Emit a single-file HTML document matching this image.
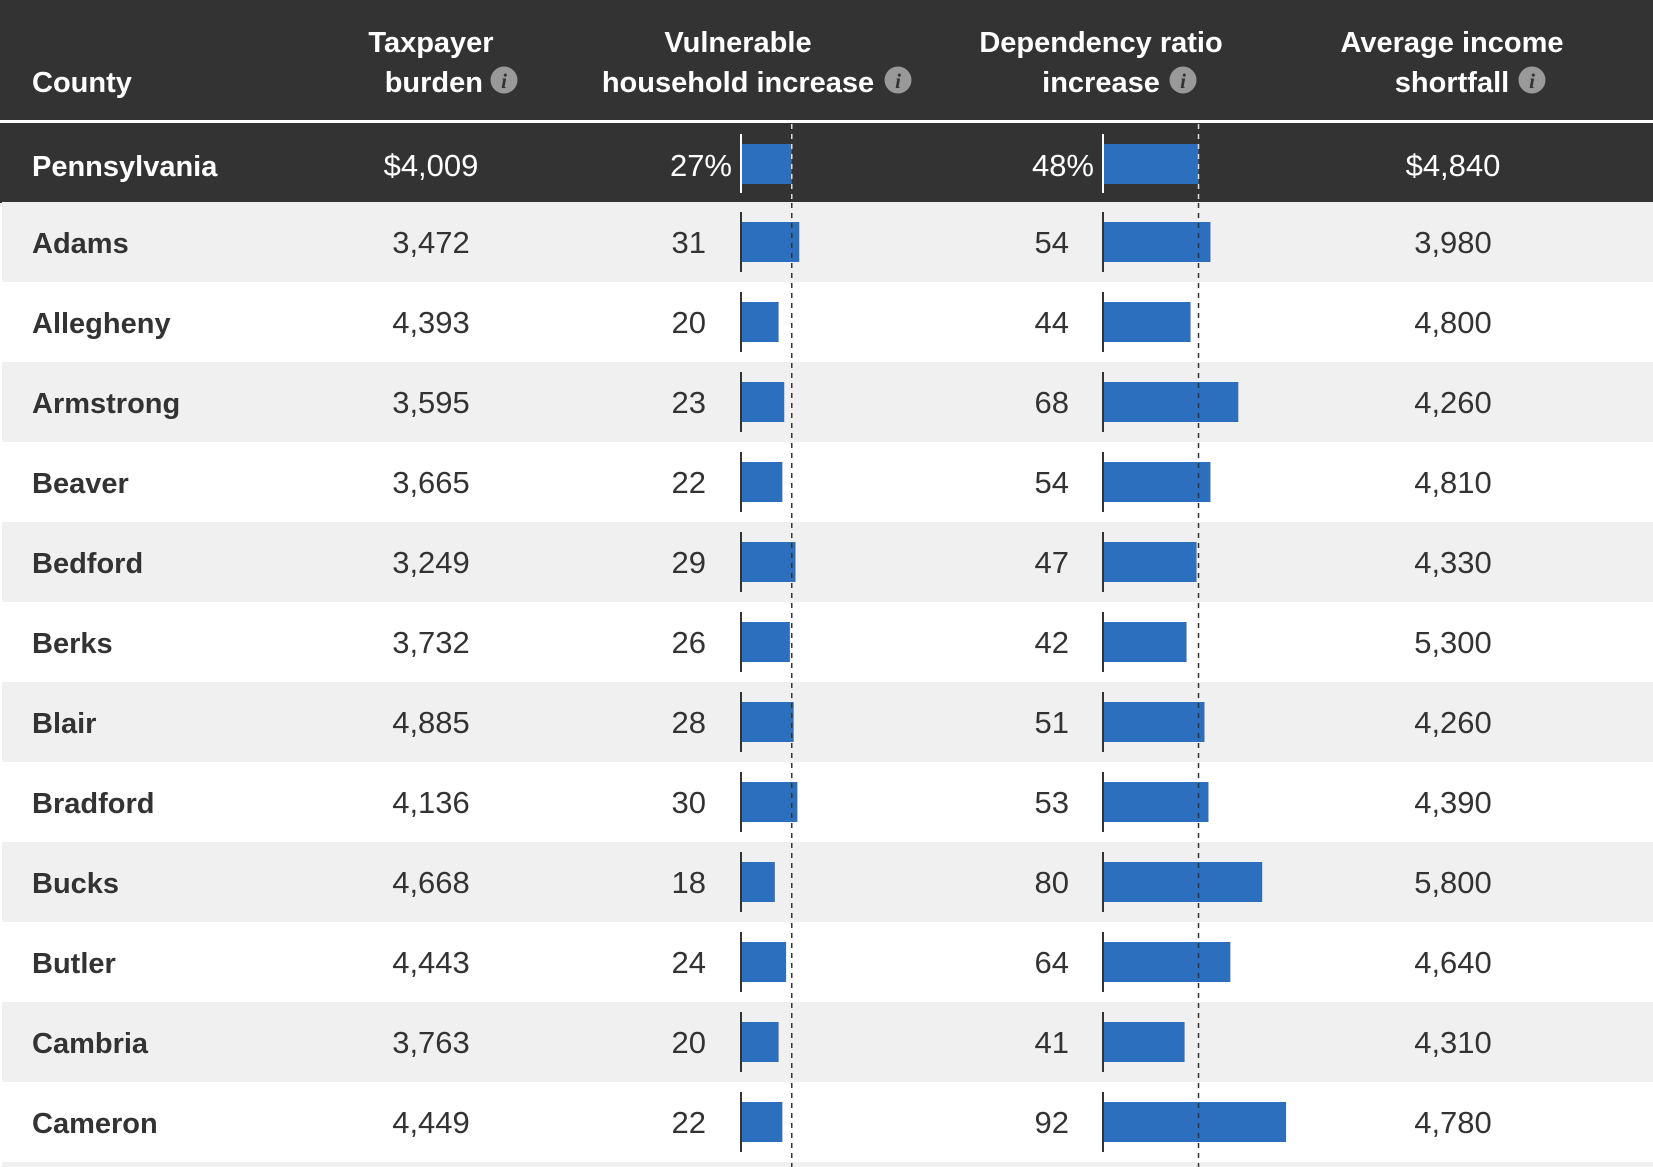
<!DOCTYPE html>
<html><head><meta charset="utf-8"><style>
html,body{margin:0;padding:0;background:#fff;}
svg{display:block;font-family:"Liberation Sans",sans-serif;}
</style></head><body>
<svg id="chart" width="1653" height="1167" viewBox="0 0 1653 1167" xmlns="http://www.w3.org/2000/svg">
<rect x="0" y="0" width="1653" height="120" fill="#333333"/>
<rect x="0" y="120" width="1653" height="3" fill="#ffffff"/>
<rect x="0" y="123" width="1653" height="80" fill="#333333"/>
<g fill="#ffffff" font-weight="bold" font-size="29">
<text x="32" y="92">County</text>
<text x="431" y="52" text-anchor="middle">Taxpayer</text>
<text x="483" y="92" text-anchor="end">burden</text>
<text x="738" y="52" text-anchor="middle">Vulnerable</text>
<text x="738" y="92" text-anchor="middle">household increase</text>
<text x="1101" y="52" text-anchor="middle">Dependency ratio</text>
<text x="1101" y="92" text-anchor="middle">increase</text>
<text x="1452" y="52" text-anchor="middle">Average income</text>
<text x="1452" y="92" text-anchor="middle">shortfall</text>
</g>
<g id="icons"></g>
<g id="rows"></g>
<g id="overlay"></g>
</svg>
<script>
const counties = ["Adams","Allegheny","Armstrong","Beaver","Bedford","Berks","Blair","Bradford","Bucks","Butler","Cambria","Cameron"];
const taxpayerBurden = ["3,472","4,393","3,595","3,665","3,249","3,732","4,885","4,136","4,668","4,443","3,763","4,449"];
const vulnerableIncrease = [31,20,23,22,29,26,28,30,18,24,20,22];
const dependencyIncrease = [54,44,68,54,47,42,51,53,80,64,41,92];
const incomeShortfall = ["3,980","4,800","4,260","4,810","4,330","5,300","4,260","4,390","5,800","4,640","4,310","4,780"];
const stateName = "Pennsylvania";
const stateTaxpayer = "$4,009";
const stateVulnerable = 27;
const stateDependency = 48;
const stateIncome = "$4,840";

const NS = "http://www.w3.org/2000/svg";
function mk(tag, attrs, parent, txt){
  const e = document.createElementNS(NS, tag);
  for (const k in attrs) e.setAttribute(k, attrs[k]);
  if (txt !== undefined) e.textContent = txt;
  parent.appendChild(e);
  return e;
}
const vBase = 741, dBase = 1103;
const xV = v => vBase + v * 1.88;
const xD = v => dBase + v * 1.99;
const rowTop = i => 202 + i * 80;

const icons = document.getElementById('icons');
const iconPos = [[504,80],[898,80],[1183,80],[1532,80]];
iconPos.forEach(p => {
  const g = mk('g', {}, icons);
  
  
  mk('circle', {cx:p[0], cy:p[1], r:13.5, fill:'#999999'}, g);
  mk('text', {x:p[0], y:p[1]+8, 'text-anchor':'middle', 'font-size':'21', 'font-weight':'bold', 'font-style':'italic', 'font-family':'"Liberation Serif",serif', fill:'#333333'}, g, 'i');
});

const rows = document.getElementById('rows');
const sg = mk('g', {}, rows);


const st = {fill:'#ffffff', 'font-size':'31'};
let t = mk('text', {x:32, y:176, 'font-weight':'bold', fill:'#ffffff', 'font-size':'29'}, sg, stateName);


t = mk('text', Object.assign({x:431, y:176, 'text-anchor':'middle'}, st), sg, stateTaxpayer);


t = mk('text', Object.assign({x:732, y:176, 'text-anchor':'end'}, st), sg, stateVulnerable + '%');


let b = mk('rect', {x:vBase, y:144, width:xV(stateVulnerable)-vBase, height:40, fill:'#2d6fbf'}, sg);


mk('rect', {x:vBase-1, y:134, width:2, height:59, fill:'#ffffff'}, sg);
t = mk('text', Object.assign({x:1094, y:176, 'text-anchor':'end'}, st), sg, stateDependency + '%');


b = mk('rect', {x:dBase, y:144, width:xD(stateDependency)-dBase, height:40, fill:'#2d6fbf'}, sg);


mk('rect', {x:dBase-1, y:134, width:2, height:59, fill:'#ffffff'}, sg);
t = mk('text', Object.assign({x:1453, y:176, 'text-anchor':'middle'}, st), sg, stateIncome);



counties.forEach((c, i) => {
  const top = rowTop(i);
  const g = mk('g', {}, rows);
  
  
  mk('rect', {x:2, y:top, width:1651, height:80, fill: i % 2 === 0 ? '#f0f0f0' : '#ffffff'}, g);
  const ty = top + 51;
  const s = {fill:'#333333', 'font-size':'31'};
  let e = mk('text', {x:32, y:ty, 'font-weight':'bold', fill:'#333333', 'font-size':'29'}, g, c);
  
  
  e = mk('text', Object.assign({x:431, y:ty, 'text-anchor':'middle'}, s), g, taxpayerBurden[i]);
  
  
  e = mk('text', Object.assign({x:706, y:ty, 'text-anchor':'end'}, s), g, String(vulnerableIncrease[i]));
  
  
  e = mk('rect', {x:vBase, y:top+20, width:xV(vulnerableIncrease[i])-vBase, height:40, fill:'#2d6fbf'}, g);
  
  
  mk('rect', {x:vBase-1, y:top+10, width:2, height:60, fill:'#333333'}, g);
  e = mk('text', Object.assign({x:1069, y:ty, 'text-anchor':'end'}, s), g, String(dependencyIncrease[i]));
  
  
  e = mk('rect', {x:dBase, y:top+20, width:xD(dependencyIncrease[i])-dBase, height:40, fill:'#2d6fbf'}, g);
  
  
  mk('rect', {x:dBase-1, y:top+10, width:2, height:60, fill:'#333333'}, g);
  e = mk('text', Object.assign({x:1453, y:ty, 'text-anchor':'middle'}, s), g, incomeShortfall[i]);
  
  
});
const tail = mk('rect', {x:2, y:rowTop(counties.length), width:1651, height:10, fill:'#f0f0f0'}, rows);



const ov = document.getElementById('overlay');
[[xV(stateVulnerable),'vulnerable-average-line'],[xD(stateDependency),'dependency-average-line']].forEach(([x,n]) => {
  let l = mk('line', {x1:x, x2:x, y1:124, y2:203, stroke:'#dddddd', 'stroke-width':1.5, 'stroke-dasharray':'5,5'}, ov);
  
  
  l = mk('line', {x1:x, x2:x, y1:203, y2:1167, stroke:'#333333', 'stroke-width':1.5, 'stroke-dasharray':'5,5'}, ov);
  
  
});
</script>
</body></html>
